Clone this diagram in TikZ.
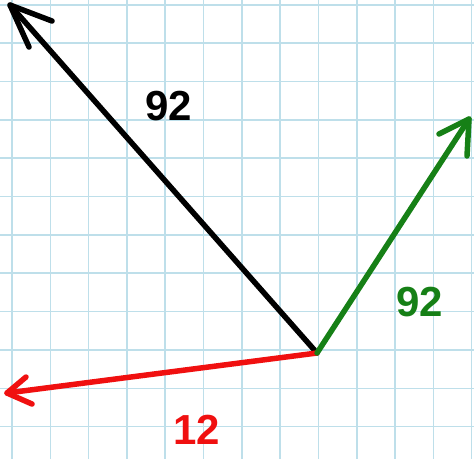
\documentclass[tikz,border=0pt]{standalone}
\usepackage{fontspec}
\setmainfont{Liberation Sans}
\definecolor{gridblue}{RGB}{190,223,234}
\definecolor{vgreen}{RGB}{22,128,22}
\definecolor{vred}{RGB}{240,16,16}
\begin{document}
\begin{tikzpicture}[x=1pt,y=-1pt,
  vec/.style={line width=5.5pt,line cap=round,line join=round},
  lbl/.style={font=\fontsize{42}{42}\selectfont\bfseries,inner sep=0pt}]
\useasboundingbox (0,0) rectangle (474,459);
\fill[white] (0,0) rectangle (474,459);
% grid
\foreach \k in {0,...,12} \draw[gridblue,line width=1.6pt] ({12+38.3*\k},0) -- ({12+38.3*\k},459);
\foreach \k in {0,...,11} \draw[gridblue,line width=1.6pt] (0,{4.8+38.35*\k}) -- (474,{4.8+38.35*\k});
% points
\coordinate (o) at (317,353);
\coordinate (bt) at (10,5);
\coordinate (ba1) at (52,21);
\coordinate (ba2) at (29,47);
\coordinate (gt) at (469,119);
\coordinate (ga1) at (439,134);
\coordinate (ga2) at (467,156);
\coordinate (rt) at (7,393);
\coordinate (ra1) at (26,377);
\coordinate (ra2) at (32,404);
% vectors
\draw[vec,black] (o) -- (bt);
\draw[vec,black] (ba1) -- (bt) -- (ba2);
\draw[vec,vred] (o) -- (rt);
\draw[vec,vred] (ra1) -- (rt) -- (ra2);
\draw[vec,vgreen] (o) -- (gt);
\draw[vec,vgreen] (ga1) -- (gt) -- (ga2);
% labels
\node[lbl,text=black] (lb) at (169,106) {92};
\node[lbl,text=vgreen] (lg) at (420,302) {92};
\node[lbl,text=vred] (lr) at (197,430) {12};
\end{tikzpicture}
\end{document}
